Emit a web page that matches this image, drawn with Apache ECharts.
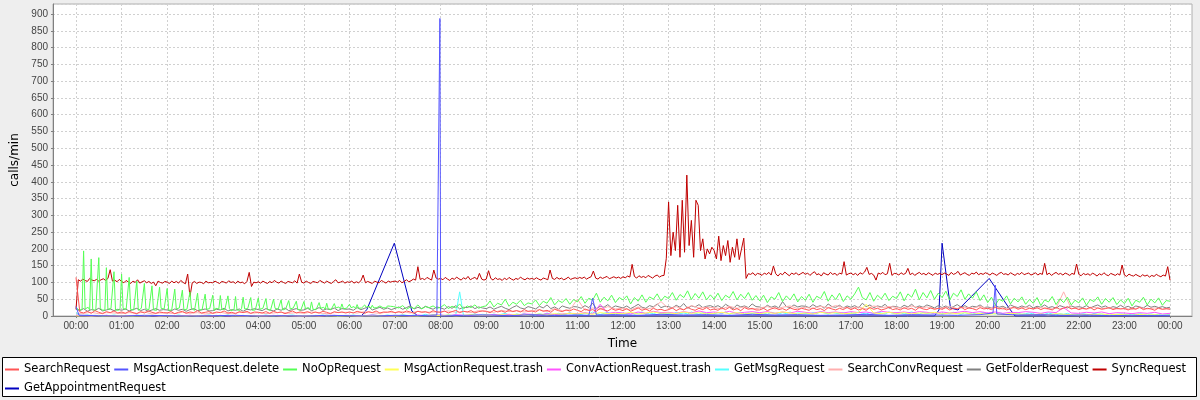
<!DOCTYPE html>
<html><head><meta charset="utf-8">
<script src="https://cdn.jsdelivr.net/npm/echarts@6/dist/echarts.min.js"></script>
<style>html,body{margin:0;padding:0;background:#eeeeee}#c{width:1200px;height:400px}</style>
</head><body><div id="c"></div>
<script>
const seriesNames = ['SearchRequest','MsgActionRequest.delete','NoOpRequest','MsgActionRequest.trash','ConvActionRequest.trash','GetMsgRequest','SearchConvRequest','GetFolderRequest','SyncRequest','GetAppointmentRequest'];
const seriesColors = ['#ff5555','#5555ff','#55ff55','#ffff55','#ff55ff','#55ffff','#ffafaf','#808080','#c00000','#0000c0'];
const hourLabels = ['00:00','01:00','02:00','03:00','04:00','05:00','06:00','07:00','08:00','09:00','10:00','11:00','12:00','13:00','14:00','15:00','16:00','17:00','18:00','19:00','20:00','21:00','22:00','23:00','00:00'];

// SyncRequest, one value every 3 minutes from 00:00
const syncValues = [
20,108,104,110,106,103,112,107,105,109,104,108,111,106,112,138,104,107,102,109,
103,99,106,101,97,104,100,108,98,102,105,99,103,97,101,90,104,100,98,103,
101,97,104,99,103,98,106,100,96,125,58,99,103,97,101,100,96,104,99,100,
99,104,100,97,103,101,98,105,100,102,97,104,99,101,96,103,130,88,101,99,
102,98,104,100,97,103,99,106,101,98,104,100,97,103,101,99,105,98,125,101,
98,104,100,97,103,101,99,106,102,98,104,100,97,103,108,99,101,104,98,102,
100,104,98,102,99,105,122,99,103,100,97,104,101,99,106,102,98,104,101,103,
104,101,106,99,103,108,102,105,110,107,147,109,112,108,115,111,107,137,113,110,
112,108,115,110,106,113,109,116,111,107,114,110,118,108,112,115,109,127,110,107,
110,135,112,107,114,109,111,106,113,108,115,110,107,112,109,116,111,108,113,110,
112,109,114,110,107,113,111,108,137,112,109,115,110,113,108,111,116,109,112,114,
111,115,112,116,110,114,117,134,113,110,116,112,115,118,111,114,117,113,116,112,
117,114,119,116,154,118,113,120,115,118,114,121,117,113,119,122,116,120,121,172,
340,180,250,195,330,175,345,190,420,210,285,175,345,330,195,230,170,200,185,205,
195,170,238,165,210,180,225,160,205,175,230,168,200,232,112,126,124,129,121,127,
125,121,128,124,130,122,149,126,119,127,123,131,125,120,128,124,129,122,126,130,
124,128,121,127,132,123,126,119,129,125,122,130,124,127,121,128,125,162,122,126,
128,123,127,121,129,125,131,145,124,127,122,107,128,125,130,123,126,157,121,127,
126,122,129,124,127,142,123,128,121,126,130,124,127,122,129,125,121,128,124,127,
123,128,125,121,130,124,127,133,122,126,129,124,121,128,125,131,123,127,124,129,
126,122,128,125,121,127,130,124,126,122,129,125,121,127,124,130,123,126,128,122,
125,129,122,127,124,157,123,128,121,126,130,124,127,122,128,125,121,127,124,155,
124,120,127,123,126,121,128,124,119,126,122,129,123,120,127,124,121,126,122,152,
122,118,125,121,119,124,120,117,123,119,122,116,121,118,124,120,117,122,119,147,
107];

// NoOpRequest, every 2 minutes from 00:00 to 07:00
const noopEarly = [
25,20,18,22,19, 194,21,17,26,18, 170,19,23,16,20, 174,24,18,21,17, 144,20,16,22,19, 132,18,21,17,23,
125,22,17,20,16, 115,19,24,18,21, 104,17,20,23,18, 97,21,16,19,22, 90,18,22,17,20, 86,23,19,21,16,
82,17,20,18,22, 80,21,18,24,19, 77,19,16,20,23, 72,22,18,17,20, 68,18,21,19,16, 65,20,17,22,18,
62,16,23,19,21, 61,19,18,20,17, 60,22,16,21,19, 58,18,20,17,23, 56,21,19,22,18, 55,17,22,18,20,
54,20,18,23,19, 52,19,21,17,22, 50,23,18,20,19, 48,18,22,21,17, 46,21,19,24,20, 44,19,23,18,22,
43,22,20,25,19, 42,20,24,19,23, 40,23,21,26,20, 38,21,25,20,24, 37,24,22,27,21, 36,22,26,23,25,
35,25,23,28,22, 34,23,27,24,26, 33,26,24,29,23, 32,24,28,25,27, 30,27,25,30,24, 30,25,29,26,28,
28];
// NoOpRequest, every 5 minutes from 07:05 to 24:00
const noopLate = [
24,31,20,27,22,33,21,28,25,30,23,
26,34,22,29,24,36,21,30,25,33,23,28,
30,45,27,38,33,50,29,41,35,47,31,39,
36,48,31,44,38,55,33,46,40,52,35,49,
42,58,38,53,47,68,41,56,45,62,40,55,
48,60,36,55,44,63,41,57,50,66,45,59,
52,70,47,64,55,75,49,67,53,72,48,63,
50,68,46,62,54,73,48,65,52,70,47,61,
45,62,40,57,50,70,43,60,48,66,42,58,
47,65,41,59,52,73,44,63,49,68,43,60,
50,66,86,55,48,70,44,62,51,68,46,59,
52,72,45,66,56,80,48,70,54,76,50,68,
55,74,47,68,58,78,50,66,53,72,46,63,
40,56,33,50,44,60,36,53,42,57,35,49,
38,55,31,48,42,58,34,51,40,56,33,47,
39,54,32,49,43,57,35,52,41,55,34,48,
37,53,30,47,41,56,33,50,39,54,32,46,
44];

// SearchRequest, every 5 minutes
const searchValues = [
115,12,9,14,8,16,11,7,13,10,15,9,
12,8,14,10,7,13,9,15,11,8,12,10,
9,13,7,11,14,8,12,10,16,9,11,13,
8,12,10,15,9,11,7,13,10,14,8,12,
11,9,13,8,14,10,12,7,11,15,9,12,
10,13,8,12,9,14,11,7,13,10,12,9,
12,9,14,11,8,13,10,15,9,12,11,14,
10,13,9,15,12,8,14,11,13,9,16,12,
11,15,9,13,17,10,14,12,16,9,13,15,
14,10,17,12,15,11,18,13,16,12,19,14,
15,12,19,14,17,11,20,16,13,18,15,21,
17,13,21,16,19,14,23,18,15,22,17,20,
16,22,14,19,24,17,21,15,23,18,20,16,
19,24,16,22,18,26,20,17,23,19,25,18,
21,17,24,19,26,18,22,16,25,20,23,18,
18,23,16,21,25,19,22,17,24,20,18,23,
20,17,24,19,22,16,25,21,18,23,19,26,
19,24,18,22,17,25,20,23,18,21,26,19,
22,18,25,20,23,17,26,21,19,24,20,23,
20,25,18,23,21,27,19,24,22,18,25,21,
23,19,26,21,24,18,22,27,20,24,19,23,
21,25,19,24,22,18,26,20,23,28,21,24,
19,23,21,26,18,24,20,22,25,19,23,21,
22,18,24,20,26,19,23,21,17,24,20,22,
20];

// GetFolderRequest, every 5 minutes
const getFolderValues = [
20,16,22,14,19,17,23,15,18,21,16,20,
17,21,15,19,23,16,20,14,18,22,17,19,
18,15,21,17,20,14,19,22,16,18,21,15,
16,20,18,23,15,19,17,21,14,20,18,22,
19,16,22,18,15,21,17,24,16,19,22,17,
18,23,16,20,25,17,21,19,24,16,22,20,
21,17,25,19,23,28,18,22,26,20,24,19,
23,27,20,25,30,21,26,22,29,24,20,27,
24,20,28,23,31,21,26,25,30,22,27,24,
22,27,20,25,29,23,19,26,31,24,21,28,
25,21,29,24,33,22,27,20,30,26,23,28,
27,23,31,25,38,22,29,26,34,24,30,27,
24,30,22,28,35,26,23,31,27,36,25,29,
28,24,32,26,37,23,30,27,34,25,29,31,
26,31,24,35,28,22,33,27,30,25,36,28,
27,23,32,26,30,24,43,28,25,33,27,30,
29,25,34,27,31,23,36,28,26,32,24,30,
26,31,24,38,28,33,25,30,27,35,23,29,
28,24,32,27,35,25,30,26,33,29,24,31,
25,30,23,28,34,26,31,24,29,27,33,25,
27,24,31,26,29,23,33,28,25,30,26,32,
24,29,26,33,25,28,23,31,27,24,30,26,
28,25,31,24,29,33,26,30,23,28,25,32,
25,29,23,30,27,24,32,26,29,25,28,24,
26];

// GetMsgRequest, every 5 minutes
const getMsgValues = [
10,2,1,3,0,2,1,0,2,1,3,1,
0,2,1,0,3,1,2,0,1,2,0,1,
2,0,1,3,1,0,2,1,0,2,1,3,
1,2,0,1,3,0,2,1,2,0,1,2,
0,1,3,1,0,2,1,0,2,3,1,0,
2,1,0,2,1,3,0,1,2,0,1,2,
1,3,1,0,2,1,4,2,0,1,3,1,
2,1,4,2,1,3,0,2,5,1,3,2,
3,1,4,2,5,72,2,1,4,6,3,5,
4,2,6,3,5,8,3,2,6,4,7,3,
5,3,7,4,9,5,3,8,4,6,10,5,
6,4,9,5,12,7,4,8,11,5,7,9,
7,5,10,6,8,12,5,9,7,11,6,8,
8,5,11,7,9,6,12,8,5,10,7,9,
6,10,7,12,5,9,8,11,6,9,7,10,
7,9,5,11,8,6,10,7,12,6,9,8,
8,6,10,7,13,9,6,11,8,7,10,6,
9,7,12,8,6,10,7,11,9,6,12,8,
7,10,6,9,12,8,5,11,7,9,6,10,
6,9,7,11,8,5,10,7,9,6,8,11,
5,8,6,10,7,4,9,6,8,5,7,9,
6,4,8,5,9,6,3,7,5,8,4,6,
4,7,5,3,8,5,6,4,7,3,5,6,
5,3,6,4,7,5,3,6,4,5,3,4,
4];

// SearchConvRequest, every 10 minutes
const searchConvValues = [
8,8,11,7,10,9, 7,10,8,12,6,9, 9,7,11,8,10,6, 8,11,7,9,12,8,
10,7,9,11,8,10, 8,12,9,7,10,11, 11,9,13,10,8,12, 10,13,9,14,11,12,
12,15,11,14,10,16, 14,11,17,13,16,12, 15,19,13,22,16,18, 50,17,24,19,28,21,
23,18,27,20,25,43, 22,28,19,31,24,26, 25,21,29,23,27,20, 24,28,21,26,30,22,
26,22,29,24,31,25, 23,27,21,30,25,28, 26,22,30,24,27,21, 24,28,22,26,23,29,
22,26,20,25,23,27, 21,25,20,23,72,22, 24,20,26,22,25,21, 23,19,25,21,24,20,
22];

// MsgActionRequest.trash, every 10 minutes
const msgTrashValues = [
0,1,0,2,0,1, 1,0,0,1,2,0, 0,1,0,0,1,0, 1,0,2,0,0,1,
0,0,1,0,1,0, 0,1,0,2,0,0, 1,0,1,0,2,1, 0,2,1,0,1,3,
1,3,0,2,4,1, 3,1,4,2,5,2, 4,6,3,7,5,8, 6,9,5,10,7,8,
7,11,6,9,12,8, 9,7,12,8,10,6, 8,11,7,10,6,9, 7,10,8,12,9,6,
9,6,11,8,10,7, 8,10,35,9,7,11, 7,10,6,9,8,11, 6,9,7,10,5,8,
5,7,4,8,6,5, 4,6,3,7,5,4, 3,5,4,6,3,5, 4,2,5,3,4,2,
3];

// ConvActionRequest.trash, every 10 minutes
const convTrashValues = [
2,1,0,1,2,0, 0,1,2,0,1,0, 1,0,1,2,0,1, 0,2,0,1,0,1,
1,0,2,0,1,0, 0,1,0,1,2,1, 2,0,1,3,1,0, 1,2,0,3,1,2,
3,1,4,2,1,3, 2,4,3,5,2,6, 5,3,7,4,6,8, 7,10,6,35,8,11,
9,6,12,8,14,10, 11,8,13,9,15,10, 12,9,14,8,11,13, 10,13,8,12,9,14,
11,8,13,10,12,9, 13,10,12,8,14,11, 10,12,9,13,11,8, 12,9,11,14,10,13,
9,12,8,11,10,13, 11,8,12,10,25,9, 8,11,9,12,7,10, 9,7,10,8,11,6,
8];

// MsgActionRequest.delete, [minute, calls/min]
const deletePoints = [
[0,28],[4,2],[30,1],[60,0],[90,2],[120,1],[150,0],[180,1],[210,2],[240,0],[270,1],[300,0],
[330,2],[360,1],[390,0],[420,2],[450,1],[475,3],[479,887],[480,0],[510,2],[540,3],[570,1],
[600,4],[630,2],[660,3],[675,2],[680,53],[685,3],[710,4],[740,2],[770,5],[800,3],[830,4],
[860,2],[890,5],[920,3],[950,4],[980,2],[1010,3],[1040,5],[1070,2],[1100,4],[1130,3],
[1160,2],[1190,4],[1207,9],[1210,92],[1212,6],[1240,3],[1270,4],[1300,2],[1330,3],
[1360,1],[1390,2],[1420,1],[1440,2]];

// GetAppointmentRequest, [minute, calls/min]
const appointmentPoints = [
[0,2],[120,0],[240,0],[376,1],[383,20],[419,217],[442,15],[450,0],[600,0],[800,0],[1000,0],
[1130,0],[1136,18],[1140,217],[1151,24],[1161,18],[1202,112],[1228,24],[1236,0],[1440,0]];

function stepSeries(values, step, start) {
  return values.map((v, i) => [start + i * step, v]);
}

const dataByName = {
  'SearchRequest': stepSeries(searchValues, 5, 0),
  'MsgActionRequest.delete': deletePoints,
  'NoOpRequest': stepSeries(noopEarly, 2, 0).concat(stepSeries(noopLate, 5, 425)),
  'MsgActionRequest.trash': stepSeries(msgTrashValues, 10, 0),
  'ConvActionRequest.trash': stepSeries(convTrashValues, 10, 0),
  'GetMsgRequest': stepSeries(getMsgValues, 5, 0),
  'SearchConvRequest': stepSeries(searchConvValues, 10, 0),
  'GetFolderRequest': stepSeries(getFolderValues, 5, 0),
  'SyncRequest': stepSeries(syncValues, 3, 0),
  'GetAppointmentRequest': appointmentPoints
};

const series = [];
for (let k = seriesNames.length - 1; k >= 0; k--) {
  const name = seriesNames[k];
  series.push({
    name: name, type: 'line', xAxisIndex: 1, yAxisIndex: 1,
    data: dataByName[name], showSymbol: false, symbol: 'none',
    color: seriesColors[k],
    itemStyle: { color: seriesColors[k] },
    lineStyle: { width: 1, color: seriesColors[k] },
    silent: true, animation: false, emphasis: { disabled: true }
  });
}

const gridLine = { show: true, lineStyle: { color: '#d0d0d0', type: [2, 2], width: 1 } };
const axisFont = { fontFamily: 'Liberation Sans', fontSize: 10, color: '#444' };
const nameFont = { fontFamily: 'DejaVu Sans', fontSize: 12, color: '#000' };

const chart = echarts.init(document.getElementById('c'), null, { renderer: 'canvas' });
chart.setOption({
  animation: false,
  backgroundColor: '#eeeeee',
  graphic: [{
    type: 'rect', z: 0, silent: true,
    shape: { x: 2.5, y: 357.5, width: 1194, height: 39 },
    style: { fill: '#ffffff', stroke: '#000000', lineWidth: 1 }
  }],
  grid: [
    { left: 53, right: 8, top: 4, bottom: 84, show: true, backgroundColor: '#ffffff', borderColor: '#b0b0b0', borderWidth: 1 },
    { left: 76, right: 30, top: 4, bottom: 84 }
  ],
  xAxis: [
    { gridIndex: 0, type: 'value', min: 0, max: 1,
      axisLine: { show: true, lineStyle: { color: '#808080' } },
      axisTick: { show: false }, axisLabel: { show: false }, splitLine: { show: false },
      name: 'Time', nameLocation: 'middle', nameGap: 22, nameTextStyle: nameFont },
    { gridIndex: 1, type: 'value', min: 0, max: 1440, interval: 60,
      axisLine: { show: false },
      axisTick: { show: true, length: 2, lineStyle: { color: '#808080' } },
      axisLabel: { show: true, margin: 5, formatter: v => hourLabels[Math.round(v / 60)], ...axisFont },
      splitLine: gridLine }
  ],
  yAxis: [
    { gridIndex: 0, type: 'value', min: 0, max: 930, interval: 50,
      axisLine: { show: true, lineStyle: { color: '#808080' } },
      axisTick: { show: true, length: 2, lineStyle: { color: '#808080' } },
      axisLabel: { show: true, margin: 5, showMaxLabel: false,
        formatter: v => (v % 50 === 0 ? String(v) : ''), ...axisFont },
      splitLine: gridLine,
      name: 'calls/min', nameLocation: 'middle', nameGap: 23, nameTextStyle: nameFont },
    { gridIndex: 1, type: 'value', min: 0, max: 930, show: false, splitLine: { show: false } }
  ],
  legend: {
    data: seriesNames,
    left: 0, top: 357, width: 1195, padding: [5, 5],
    icon: 'rect', itemWidth: 14, itemHeight: 2, itemGap: 4,
    itemStyle: { borderWidth: 0 },
    textStyle: { fontFamily: 'DejaVu Sans', fontSize: 11.5, color: '#000', lineHeight: 15 },
    selectedMode: false
  },
  series: series
});
</script>
</body></html>
